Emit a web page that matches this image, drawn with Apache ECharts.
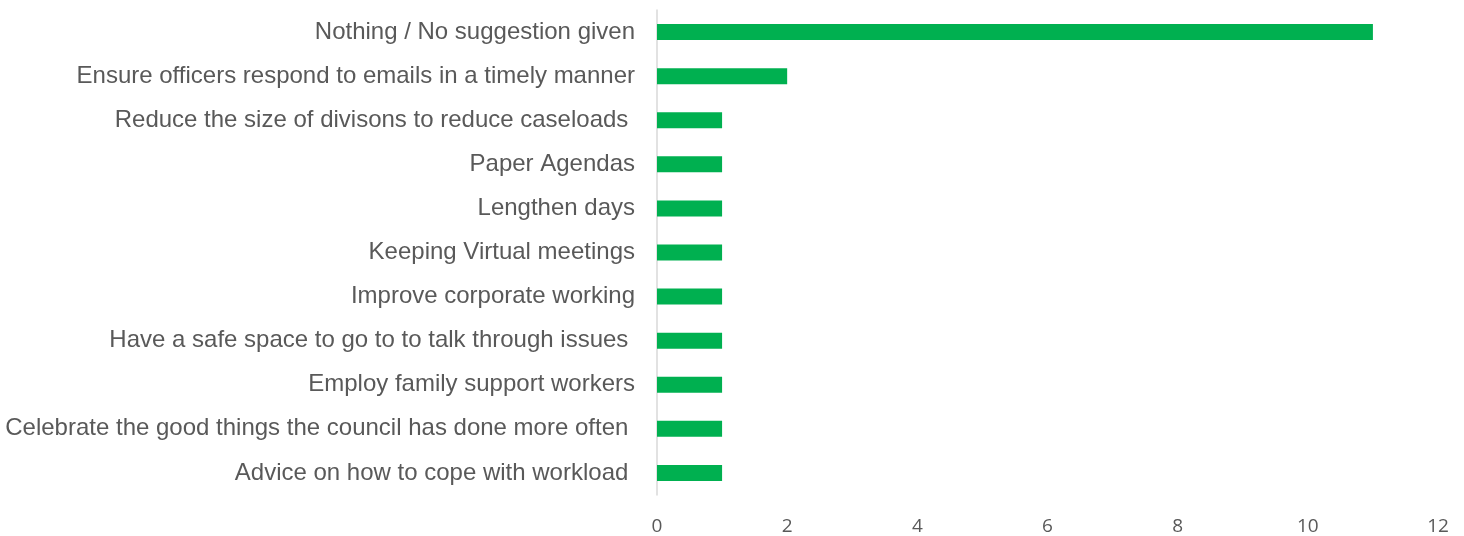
<!DOCTYPE html>
<html>
<head>
<meta charset="utf-8">
<script src="https://cdn.jsdelivr.net/npm/echarts@6/dist/echarts.min.js"></script>
<style>
  html, body { margin: 0; padding: 0; background: #fff; }
  #chart { width: 1464px; height: 536px; }
</style>
</head>
<body>
<div id="chart"></div>
<script>
// Suggestions, listed top to bottom
const categories = [
  'Nothing / No suggestion given',
  'Ensure officers respond to emails in a timely manner',
  'Reduce the size of divisons to reduce caseloads ',
  'Paper Agendas',
  'Lengthen days',
  'Keeping Virtual meetings',
  'Improve corporate working',
  'Have a safe space to go to to talk through issues ',
  'Employ family support workers',
  'Celebrate the good things the council has done more often ',
  'Advice on how to cope with workload '
];
const counts = [11, 2, 1, 1, 1, 1, 1, 1, 1, 1, 1];
const xTicks = [0, 2, 4, 6, 8, 10, 12];

const chart = echarts.init(document.getElementById('chart'));
chart.setOption({
  animation: false,
  grid: { left: 657, right: 26, top: 10, bottom: 39 },
  xAxis: {
    type: 'value',
    min: xTicks[0],
    max: xTicks[xTicks.length - 1],
    interval: xTicks[1] - xTicks[0],
    axisLine: { show: false },
    axisTick: { show: false },
    splitLine: { show: false },
    axisLabel: {
      color: '#595959',
      fontFamily: 'Open Sans, sans-serif',
      fontSize: 19,
      margin: 22
    }
  },
  yAxis: {
    type: 'category',
    inverse: true,
    data: categories,
    axisLine: { show: true, lineStyle: { color: '#d9d9d9', width: 1.5 } },
    axisTick: { show: false },
    axisLabel: {
      color: '#595959',
      fontFamily: 'Liberation Sans, Arial, sans-serif',
      fontSize: 24,
      margin: 22,
      padding: [2, 0, 0, 0]
    }
  },
  series: [{
    type: 'bar',
    data: counts,
    barWidth: 16,
    itemStyle: { color: '#00b050' }
  }]
});
</script>
</body>
</html>
